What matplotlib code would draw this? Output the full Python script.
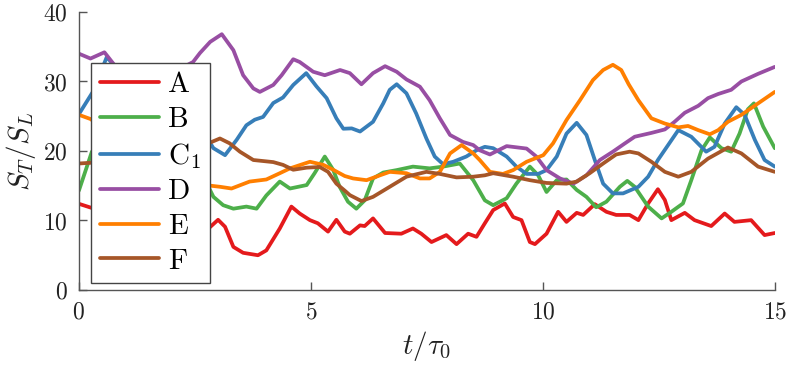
import matplotlib
matplotlib.use('Agg')
import matplotlib.pyplot as plt

plt.rcParams['font.family'] = 'serif'
plt.rcParams['font.serif'] = ['cmr10']
plt.rcParams['mathtext.fontset'] = 'cm'
plt.rcParams['axes.formatter.use_mathtext'] = True

# series values (t/tau0, S_T/S_L)
t_A = [0, 0.28, 0.8, 1.5, 2.2, 2.72, 3.0, 3.15, 3.33, 3.54, 3.86, 4.04, 4.33, 4.58, 4.76, 4.98, 5.15, 5.37,
       5.55, 5.73, 5.84, 6.06, 6.16, 6.34, 6.60, 6.95, 7.2, 7.38, 7.60, 7.92, 8.14, 8.39, 8.57, 8.75, 8.93,
       9.18, 9.36, 9.54, 9.72, 9.83, 10.08, 10.33, 10.51, 10.73, 10.87, 11.12, 11.37, 11.58, 11.87, 12.06,
       12.27, 12.48, 12.63, 12.77, 13.06, 13.27, 13.63, 13.92, 14.13, 14.49, 14.78, 15.0]
A = [12.4, 11.8, 10.5, 9.5, 8.5, 8.4, 10.1, 9.1, 6.2, 5.35, 5.0, 5.7, 8.85, 12.0, 11.0, 10.05, 9.6, 8.4,
     10.1, 8.4, 8.1, 9.3, 9.2, 10.3, 8.2, 8.1, 8.85, 8.1, 6.9, 7.9, 6.6, 8.1, 7.65, 9.6, 11.5,
     12.45, 10.5, 10.05, 6.9, 6.6, 8.1, 11.25, 9.8, 11.1, 10.8, 12.35, 11.25, 10.8, 10.8, 10.05,
     12.45, 14.5, 12.95, 10.05, 11.1, 10.05, 9.2, 11.0, 9.8, 10.05, 7.9, 8.2]

t_B = [0, 0.28, 0.6, 1.2, 2.0, 2.72, 2.90, 3.11, 3.33, 3.61, 3.83, 4.04, 4.33, 4.55, 4.91, 5.08, 5.30, 5.48,
       5.62, 5.80, 5.98, 6.16, 6.34, 6.56, 6.85, 7.20, 7.56, 7.85, 8.21, 8.50, 8.75, 8.93, 9.22, 9.43,
       9.72, 9.90, 10.08, 10.30, 10.51, 10.73, 10.94, 11.15, 11.37, 11.66, 11.82, 11.98, 12.27, 12.56,
       12.77, 13.02, 13.20, 13.42, 13.6, 13.85, 14.06, 14.24, 14.42, 14.55, 14.75, 15.0]
B = [14.3, 19.9, 22.0, 20.0, 17.0, 15.8, 13.4, 12.2, 11.7, 12.0, 11.7, 13.6, 15.6, 14.6, 15.1, 16.8, 19.2, 17.3,
     14.85, 12.7, 11.7, 12.9, 16.05, 16.9, 17.25, 17.75, 17.5, 17.75, 18.2, 15.8, 12.9, 12.2, 13.2, 15.3,
     17.75, 16.5, 14.1, 15.8, 15.9, 14.4, 13.4, 11.9, 12.7, 14.85, 15.7, 14.85, 12.0, 10.3,
     11.25, 12.45, 15.8, 20.1, 21.95, 20.4, 19.9, 22.5, 26.0, 26.85, 23.5, 20.4]

t_C = [0, 0.3, 0.6, 0.8, 1.2, 1.8, 2.4, 2.72, 2.90, 3.15, 3.40, 3.61, 3.79, 3.97, 4.19, 4.40, 4.62, 4.90,
       5.12, 5.34, 5.55, 5.70, 5.88, 6.06, 6.34, 6.56, 6.70, 6.85, 7.06, 7.27, 7.49, 7.67, 7.85, 8.07,
       8.35, 8.57, 8.75, 8.93, 9.22, 9.43, 9.65, 9.90, 10.08, 10.30, 10.51, 10.73, 10.94, 11.12, 11.30,
       11.51, 11.73, 12.06, 12.27, 12.48, 12.70, 12.92, 13.20, 13.52, 13.70, 13.92, 14.17, 14.35, 14.57,
       14.78, 15.0]
C1 = [25.3, 28.5, 33.5, 32.0, 27.0, 24.0, 24.0, 22.3, 20.4, 19.4, 21.6, 23.7, 24.5, 24.9, 26.9, 27.7, 29.5, 31.2,
      29.3, 27.6, 24.7, 23.2, 23.25, 22.8, 24.2, 26.85, 28.8, 29.6, 28.3, 25.4, 21.8, 19.2, 18.1, 18.45,
      19.2, 20.1, 20.6, 20.4, 19.2, 17.75, 16.7, 16.7, 17.25, 19.2, 22.5, 24.05, 22.3, 18.7, 15.3,
      13.9, 13.9, 14.85, 16.3, 18.7, 20.85, 23.0, 22.05, 19.9, 20.6, 23.95, 26.3, 25.2, 21.6,
      18.7, 17.75]

t_D = [0, 0.25, 0.55, 0.75, 1.2, 1.8, 2.46, 2.61, 2.83, 3.08, 3.33, 3.54, 3.76, 3.90, 4.19, 4.37, 4.62, 4.76,
       5.05, 5.30, 5.63, 5.84, 6.09, 6.34, 6.60, 6.85, 7.06, 7.35, 7.56, 7.78, 8.0, 8.28, 8.50, 8.64, 8.86,
       9.22, 9.65, 9.86, 10.08, 10.37, 10.66, 10.94, 11.23, 11.51, 11.77, 11.98, 12.34, 12.63, 12.84,
       13.06, 13.35, 13.56, 13.78, 14.06, 14.28, 14.64, 15.0]
D = [34.0, 33.3, 34.2, 32.5, 30.0, 30.5, 32.8, 34.1, 35.7, 36.8, 34.5, 30.9, 29.0, 28.5, 29.5, 30.9, 33.2, 32.8,
     31.4, 30.9, 31.65, 31.2, 29.6, 31.2, 32.2, 31.4, 30.3, 29.25, 27.3, 24.7, 22.3, 21.3, 20.85, 20.1, 19.5,
     20.7, 20.35, 19.2, 17.25, 16.05, 15.3, 16.5, 18.7, 19.9, 21.1, 22.05, 22.6, 23.1, 24.2,
     25.5, 26.5, 27.6, 28.2, 28.8, 30.0, 31.1, 32.1]

t_E = [0, 0.25, 1.0, 2.0, 2.72, 3.04, 3.29, 3.68, 4.04, 4.33, 4.55, 4.98, 5.27, 5.48, 5.73, 5.91, 6.2, 6.49,
       6.70, 7.06, 7.35, 7.56, 7.78, 8.0, 8.25, 8.50, 8.64, 8.86, 9.14, 9.36, 9.65, 10.01, 10.22, 10.51,
       10.80, 11.08, 11.30, 11.51, 11.69, 11.85, 12.06, 12.34, 12.63, 12.92, 13.13, 13.35, 13.6, 13.78,
       13.99, 14.28, 14.64, 15.0]
E = [25.2, 24.6, 21.0, 16.5, 15.1, 14.85, 14.6, 15.6, 15.9, 16.8, 17.5, 18.45, 18.0, 17.3, 16.4, 16.05, 15.8, 16.5,
     17.0, 16.8, 16.05, 16.05, 17.0, 19.65, 20.85, 19.65, 18.7, 17.0, 16.7, 17.25, 18.45, 19.4, 21.1, 24.45,
     27.3, 30.2, 31.65, 32.4, 31.65, 29.6, 27.3, 24.7, 23.95, 23.4, 23.6, 23.0, 22.4, 23.0,
     24.2, 25.2, 26.85, 28.5]

t_F = [0, 0.25, 1.0, 2.0, 2.72, 3.04, 3.25, 3.47, 3.76, 4.19, 4.40, 4.62, 4.91, 5.19, 5.37, 5.55, 5.73, 5.84,
       6.09, 6.34, 6.70, 7.06, 7.49, 7.78, 8.14, 8.50, 8.75, 8.93, 9.36, 9.72, 10.08, 10.51, 10.73, 11.01,
       11.30, 11.58, 11.87, 12.06, 12.34, 12.63, 12.92, 13.20, 13.56, 13.99, 14.28, 14.64, 15.0]
F = [18.2, 18.3, 18.8, 19.5, 20.9, 21.8, 21.1, 19.9, 18.7, 18.4, 18.0, 17.3, 17.6, 17.7, 17.0, 15.3, 14.3, 13.65,
     12.8, 13.4, 14.85, 16.3, 17.0, 16.7, 16.2, 16.3, 16.5, 16.8, 16.3, 15.8, 15.4, 15.3, 15.6, 16.8,
     18.2, 19.5, 19.9, 19.65, 18.45, 17.0, 16.3, 17.0, 18.9, 20.5, 19.65, 17.75, 17.0]

labels = ['A', 'B', r'C$_1$', 'D', 'E', 'F']
colors = ['#e41a1c', '#4daf4a', '#377eb8', '#984ea3', '#ff7f00', '#a65628']

fig = plt.figure(figsize=(7.89, 3.74), dpi=100)
ax = fig.add_axes([0.100, 0.2246, 0.882, 0.7434])

series = [(t_A, A), (t_B, B), (t_C, C1), (t_D, D), (t_E, E), (t_F, F)]
for (t, s), lab, c in zip(series, labels, colors):
    ax.plot(t, s, color=c, lw=2.7, label=lab, solid_joinstyle='round', solid_capstyle='round')

ax.set_xlim(0, 15)
ax.set_ylim(0, 40)
ax.set_xticks([0, 5, 10, 15])
ax.set_yticks([0, 10, 20, 30, 40])
for side in ['top', 'right']:
    ax.spines[side].set_visible(False)
for side in ['left', 'bottom']:
    ax.spines[side].set_color('#555555')
    ax.spines[side].set_linewidth(1.0)
ax.tick_params(direction='in', length=6, width=1.0, color='#555555', labelsize=17,
               labelcolor='#222222', pad=8)

ax.set_xlabel(r'$t/\tau_0$', fontsize=21, color='#222222', labelpad=4)
ax.set_ylabel(r'$S_T/S_L$', fontsize=21, color='#222222', labelpad=4)

leg = ax.legend(loc='upper left', bbox_to_anchor=(0.0172, 0.8165), borderaxespad=0,
                fontsize=21, handlelength=2.05, handletextpad=0.3, labelspacing=0.28,
                borderpad=0.3, fancybox=False, framealpha=1, edgecolor='#444444')
leg.get_frame().set_linewidth(1.0)

fig.savefig('out.png', dpi=100)
